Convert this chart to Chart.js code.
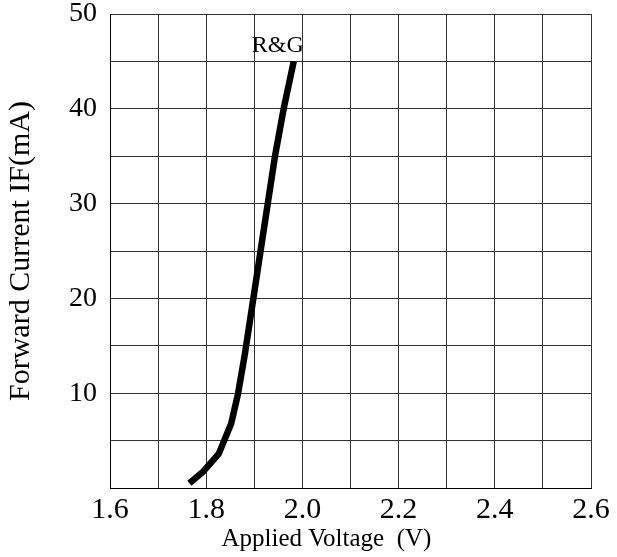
<!DOCTYPE html>
<html>
<head>
<meta charset="utf-8">
<script src="https://cdn.jsdelivr.net/npm/chart.js@4/dist/chart.umd.min.js"></script>
<style>
  html, body { margin: 0; padding: 0; background: #fff; }
  #wrap { width: 617px; height: 557px; }
</style>
</head>
<body>
<div id="wrap"><canvas id="ivChart" width="617" height="557"></canvas></div>
<script>
// forward voltage / current points
const voltage = [1.765, 1.793, 1.826, 1.852, 1.866, 1.880, 1.898, 1.913, 1.928, 1.943, 1.961, 1.982];
const current = [0.5, 1.7, 3.6, 6.8, 9.9, 14, 20, 25, 30, 35, 40, 45];

// axis labels that are actually printed
const xTickLabels = [1.6, 1.8, 2.0, 2.2, 2.4, 2.6];
const yTickLabels = [10, 20, 30, 40, 50];

const curveLabel = 'R&G';
const xTitle = 'Applied Voltage  (V)';
const yTitle = 'Forward Current IF(mA)';

const serif = '"Liberation Serif", "Times New Roman", serif';

// build the point list for the line
const points = voltage.map((v, i) => ({ x: v, y: current[i] }));

// draws the curve name and the x axis title
const textPlugin = {
    id: 'textPlugin',
    afterDraw(chart) {
        const { ctx, chartArea, scales: { x, y } } = chart;
        ctx.save();
        ctx.fillStyle = '#000';
        ctx.textAlign = 'center';
        ctx.textBaseline = 'alphabetic';

        ctx.font = '24px ' + serif;
        ctx.fillText(curveLabel, x.getPixelForValue(1.949), y.getPixelForValue(46.0));

        ctx.font = '25px ' + serif;
        ctx.fillText(xTitle, x.getPixelForValue(2.05), chartArea.bottom + 57.5);
        ctx.restore();
    }
};

const ctx = document.getElementById('ivChart').getContext('2d');
new Chart(ctx, {
    type: 'line',
    data: {
        datasets: [{
            data: points,
            borderColor: '#000',
            borderWidth: 6.5,
            borderCapStyle: 'butt',
            borderJoinStyle: 'miter',
            pointRadius: 0,
            tension: 0,
            fill: false
        }]
    },
    options: {
        responsive: false,
        animation: false,
        devicePixelRatio: 1,
        layout: { padding: { top: 0, right: 26, left: 0, bottom: 0 } },
        plugins: {
            legend: { display: false },
            tooltip: { enabled: false }
        },
        scales: {
            x: {
                type: 'linear',
                min: 1.6,
                max: 2.6,
                afterFit(scale) { scale.height = 69; },
                grid: { color: '#333', lineWidth: 1, drawTicks: false },
                border: { color: '#000', width: 1 },
                ticks: {
                    stepSize: 0.1,
                    padding: 4,
                    color: '#000',
                    maxRotation: 0,
                    autoSkip: false,
                    font: { family: serif, size: 30 },
                    callback: (v) => {
                        const t = xTickLabels.find(l => Math.abs(l - v) < 1e-6);
                        return t === undefined ? '' : t.toFixed(1);
                    }
                }
            },
            y: {
                min: 0,
                max: 50,
                afterFit(scale) {
                    scale.width = 110;
                    scale.paddingTop = 14;
                    scale.paddingBottom = 0;
                },
                grid: { color: '#333', lineWidth: 1, drawTicks: false },
                border: { color: '#000', width: 1 },
                title: {
                    display: true,
                    text: yTitle,
                    color: '#000',
                    font: { family: serif, size: 30 },
                    padding: { top: 3, bottom: 0 }
                },
                ticks: {
                    stepSize: 5,
                    padding: 13,
                    color: '#000',
                    autoSkip: false,
                    font: { family: serif, size: 28 },
                    callback: (v) => yTickLabels.includes(v) ? String(v) : ''
                }
            }
        }
    },
    plugins: [textPlugin]
});
</script>
</body>
</html>
